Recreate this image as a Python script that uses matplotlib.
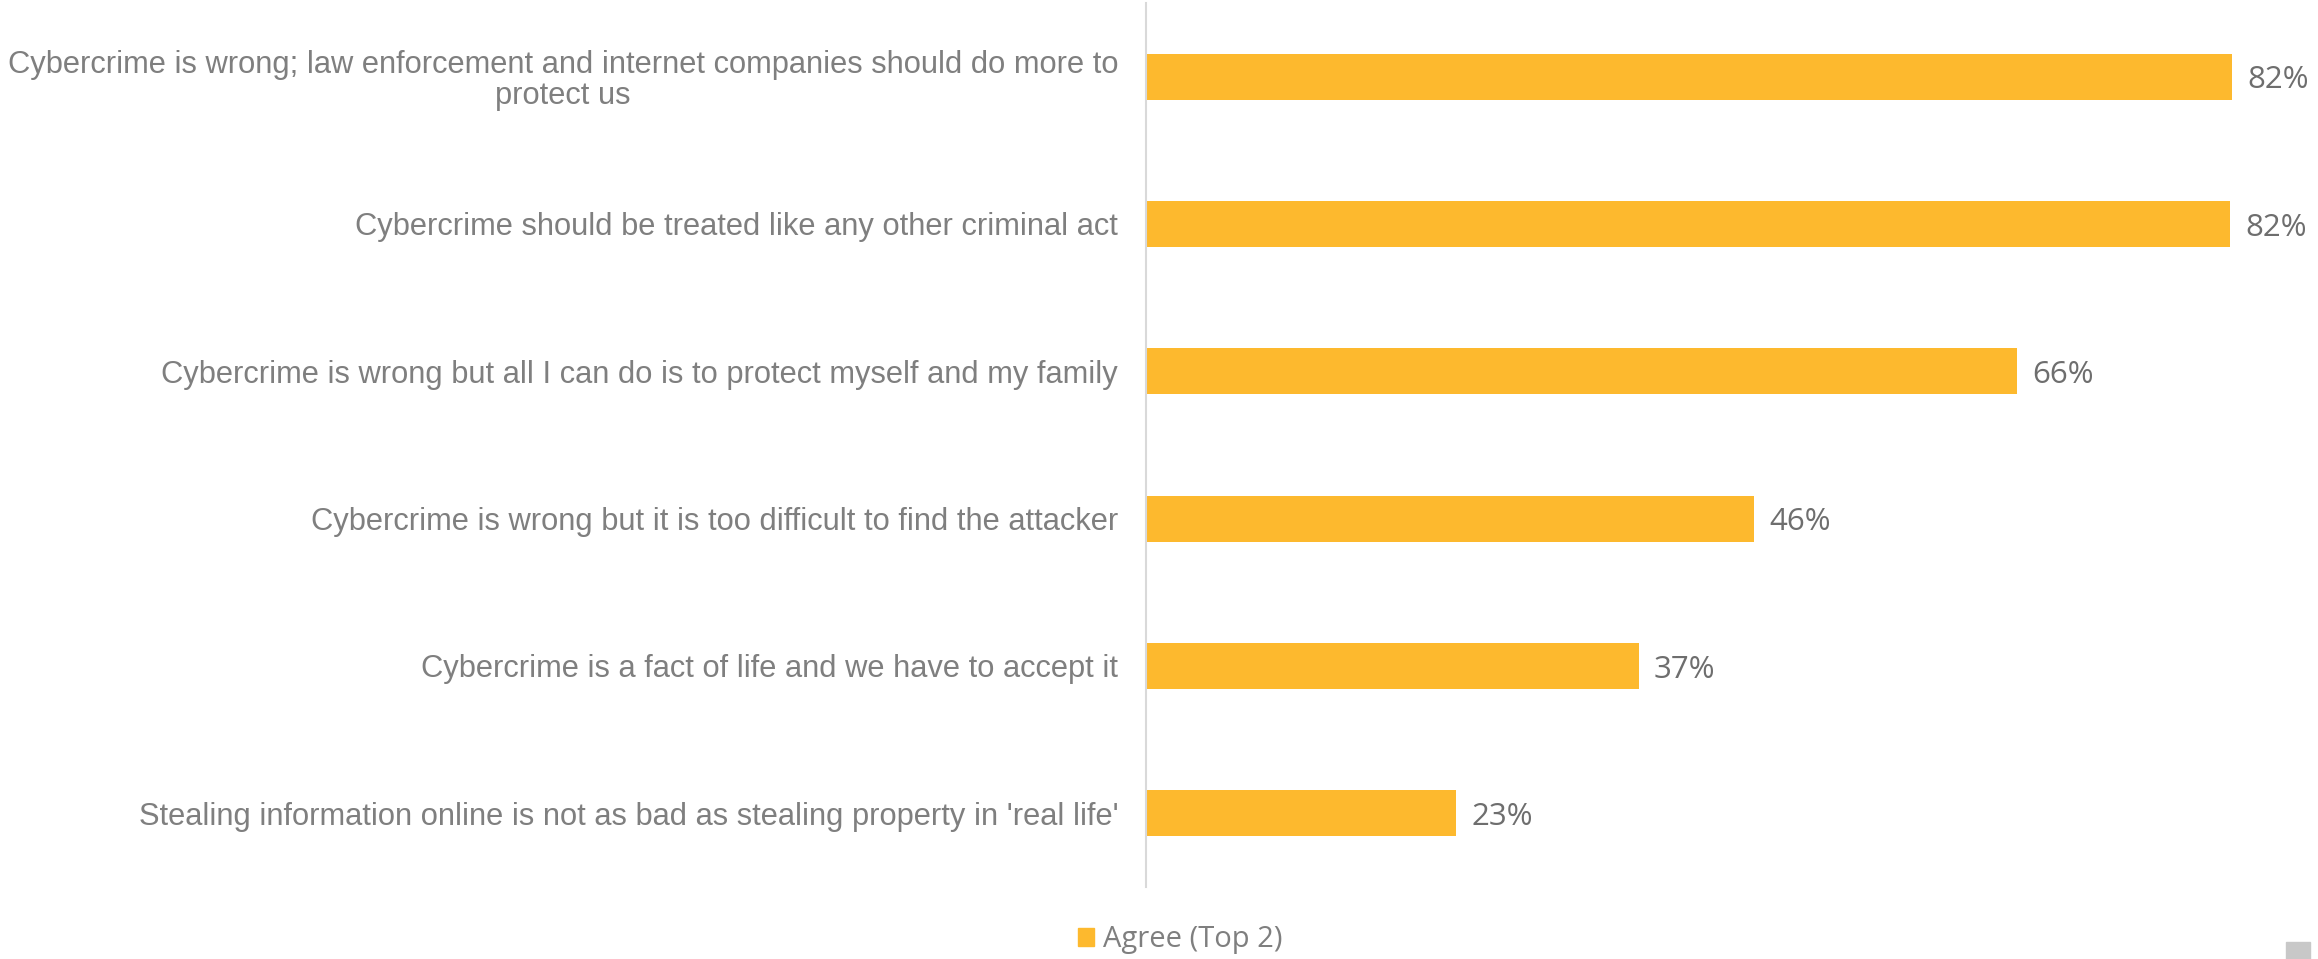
import matplotlib.pyplot as plt
import matplotlib.patches as mpatches

statements = [
    "Cybercrime is wrong; law enforcement and internet companies should do more to\nprotect us",
    "Cybercrime should be treated like any other criminal act",
    "Cybercrime is wrong but all I can do is to protect myself and my family",
    "Cybercrime is wrong but it is too difficult to find the attacker",
    "Cybercrime is a fact of life and we have to accept it",
    "Stealing information online is not as bad as stealing property in 'real life'",
]
agree = [82.0, 81.9, 65.8, 45.9, 37.2, 23.4]
series_name = "Agree (Top 2)"

bar_color = "#FDB92E"
label_color = "#7F7F7F"
value_color = "#6E6E6E"

fig = plt.figure(figsize=(23.18, 9.59), dpi=100)
ax = fig.add_axes([1146 / 2318, 1 - 887 / 959, (2300 - 1146) / 2318, 884 / 959])

pos = list(range(len(statements)))
bars = ax.barh(pos, agree, height=0.31, color=bar_color, label=series_name)
ax.set_ylim(len(statements) - 0.5, -0.5)
ax.set_xlim(0, (2300 - 1146) / 13.24)

ax.set_yticks(pos)
ax.set_yticklabels(statements, fontsize=22.2, color=label_color,
                   family=["Liberation Sans", "DejaVu Sans"],
                   multialignment="center", linespacing=1.05)
ax.tick_params(axis="y", length=0, pad=20)
ax.set_xticks([])

for s in ["top", "right", "bottom"]:
    ax.spines[s].set_visible(False)
ax.spines["left"].set_color("#D9D9D9")
ax.spines["left"].set_linewidth(1.5)

vals = ax.bar_label(bars, labels=[f"{v:.0f}%" for v in agree], padding=11,
                    fontsize=22.5, color=value_color, family="Open Sans")
for t in vals:
    t.set_va("center_baseline")

leg = fig.legend(handles=[mpatches.Patch(color=bar_color, label=series_name)],
                 loc="center", bbox_to_anchor=(1180 / 2318, 1 - 940 / 959),
                 frameon=False, prop={"family": "Open Sans", "size": 21},
                 handlelength=0.55, handleheight=0.55, handletextpad=0.3)
for t in leg.get_texts():
    t.set_color(label_color)

fig.patches.append(mpatches.Rectangle((2286 / 2318, 0), 24 / 2318, 17 / 959,
                                      transform=fig.transFigure,
                                      color="#C8C8C8", figure=fig))

fig.savefig("out.png", dpi=100)
